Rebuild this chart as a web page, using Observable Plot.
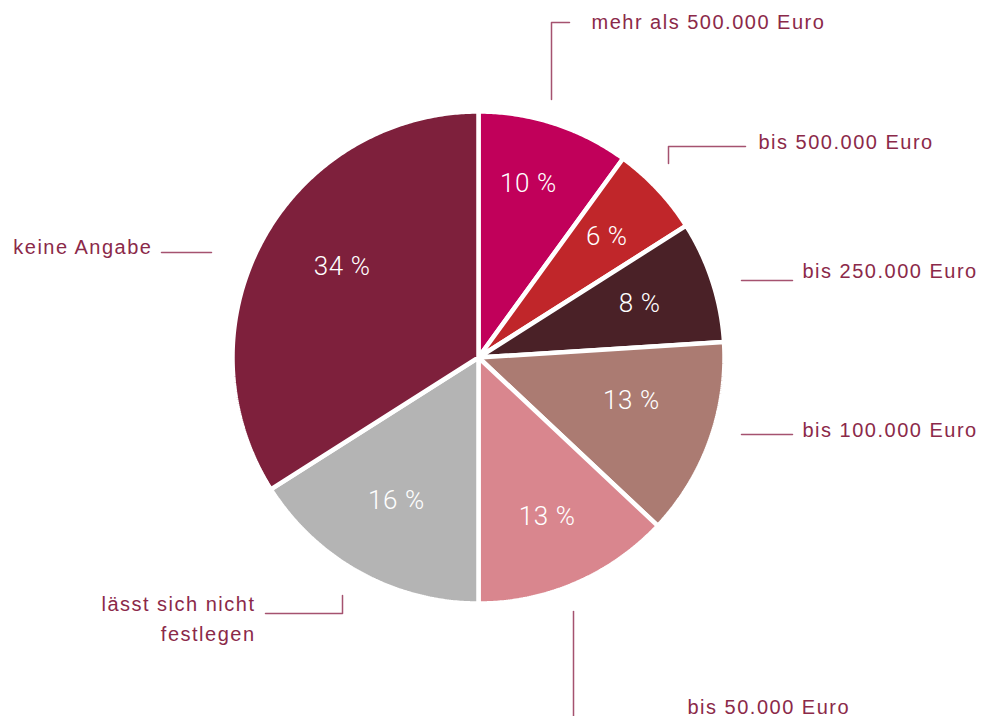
<!DOCTYPE html>
<html>
<head>
<meta charset="utf-8">
<script src="https://cdn.jsdelivr.net/npm/d3@7"></script>
<script src="https://cdn.jsdelivr.net/npm/@observablehq/plot@0.6"></script>
<style>
  html, body { margin: 0; padding: 0; background: #fff; }
  #chart svg { display: block; }
</style>
</head>
<body>
<div id="chart"></div>
<script>
// ---- Data ----
const categories = [
  "mehr als 500.000 Euro",
  "bis 500.000 Euro",
  "bis 250.000 Euro",
  "bis 100.000 Euro",
  "bis 50.000 Euro",
  "lässt sich nicht\nfestlegen",
  "keine Angabe"
];
const shares = [10, 6, 8, 13, 13, 16, 34];
const colors = ["#c1005a", "#c0262a", "#4a2127", "#ab7b72", "#d9868e", "#b4b4b4", "#7e203c"];

// ---- Layout (pixels) ----
const W = 982, H = 716;
const cx = 478, cy = 357, R = 246;
const labelRadius = [181, 176, 170, 159, 173, 165, 164];
const labelAngleShift = [-2, 0, -0.5, -4, 0, 1, 5]; // degrees
const labelLayout = [
  {x: 591, y: 19, anchor: "start"},
  {x: 758, y: 139, anchor: "start"},
  {x: 802, y: 268, anchor: "start"},
  {x: 802, y: 427, anchor: "start"},
  {x: 687, y: 704, anchor: "start"},
  {x: 255, y: 616, anchor: "end"},
  {x: 152, y: 244, anchor: "end"}
];
const leaders = [
  [[569, 22], [551, 22], [551, 99]],
  [[745, 146], [668, 146], [668, 163]],
  [[741, 280], [792, 280]],
  [[741, 434], [792, 434]],
  [[573, 611], [573, 716]],
  [[265, 613], [342, 613], [342, 595]],
  [[161, 252], [211, 252]]
];

const textColor = "#8b2949";
const leaderColor = "#a5526f";

// ---- Pie geometry from data ----
const arcs = d3.pie().sort(null).value(d => d)(shares);
const pt = (a, r) => [cx + r * Math.sin(a), cy - r * Math.cos(a)];

const wedgePts = [];
arcs.forEach((a, i) => {
  wedgePts.push({slice: i, x: cx, y: cy, fill: colors[i]});
  const n = Math.max(2, Math.ceil((a.endAngle - a.startAngle) / (Math.PI / 360)));
  for (let k = 0; k <= n; k++) {
    const ang = a.startAngle + (a.endAngle - a.startAngle) * k / n;
    const [x, y] = pt(ang, R);
    wedgePts.push({slice: i, x, y, fill: colors[i]});
  }
});

const pctLabels = arcs.map((a, i) => {
  const mid = (a.startAngle + a.endAngle) / 2 + labelAngleShift[i] * Math.PI / 180;
  const [x, y] = pt(mid, labelRadius[i]);
  return {x, y, text: `${shares[i]} %`};
});

const outerLabels = categories.map((c, i) => ({...labelLayout[i], text: c}));

const leaderPts = [];
leaders.forEach((l, i) => l.forEach(([x, y]) => leaderPts.push({id: i, x, y})));

const chart = Plot.plot({
  width: W,
  height: H,
  margin: 0,
  x: {domain: [0, W], range: [0, W], axis: null},
  y: {domain: [0, H], range: [0, H], axis: null},
  color: {type: "identity"},
  style: {background: "white", fontFamily: "Helvetica, 'Liberation Sans', Arial, sans-serif"},
  marks: [
    Plot.line(wedgePts, {
      x: "x", y: "y", z: "slice", fill: "fill",
      stroke: "white", strokeWidth: 4.5, strokeLinejoin: "miter",
      curve: "linear-closed"
    }),
    Plot.text(pctLabels, {
      x: "x", y: "y", text: "text",
      fill: "white", fontSize: 26, fontWeight: 300,
      fontFamily: "Roboto, 'Liberation Sans', sans-serif"
    }),
    Plot.line(leaderPts, {
      x: "x", y: "y", z: "id",
      stroke: leaderColor, strokeWidth: 1.5
    }),
    Plot.text(outerLabels.filter(d => d.anchor === "start"), {
      x: "x", y: "y", text: "text", textAnchor: "start",
      fill: textColor, fontSize: 20, lineHeight: 1.5,
      fontFamily: "'Liberation Sans', Helvetica, Arial, sans-serif"
    }),
    Plot.text(outerLabels.filter(d => d.anchor === "end"), {
      x: "x", y: "y", text: "text", textAnchor: "end",
      fill: textColor, fontSize: 20, lineHeight: 1.5,
      fontFamily: "'Liberation Sans', Helvetica, Arial, sans-serif"
    })
  ]
});

d3.select(chart).selectAll("g").filter(function() {
  return this.getAttribute("fill") === textColor;
}).style("letter-spacing", "1.5px");
d3.select(chart).selectAll("g").filter(function() {
  return this.getAttribute("fill") === "white" && this.getAttribute("font-size");
}).style("letter-spacing", "0.6px");

document.getElementById("chart").appendChild(chart);
</script>
</body>
</html>
